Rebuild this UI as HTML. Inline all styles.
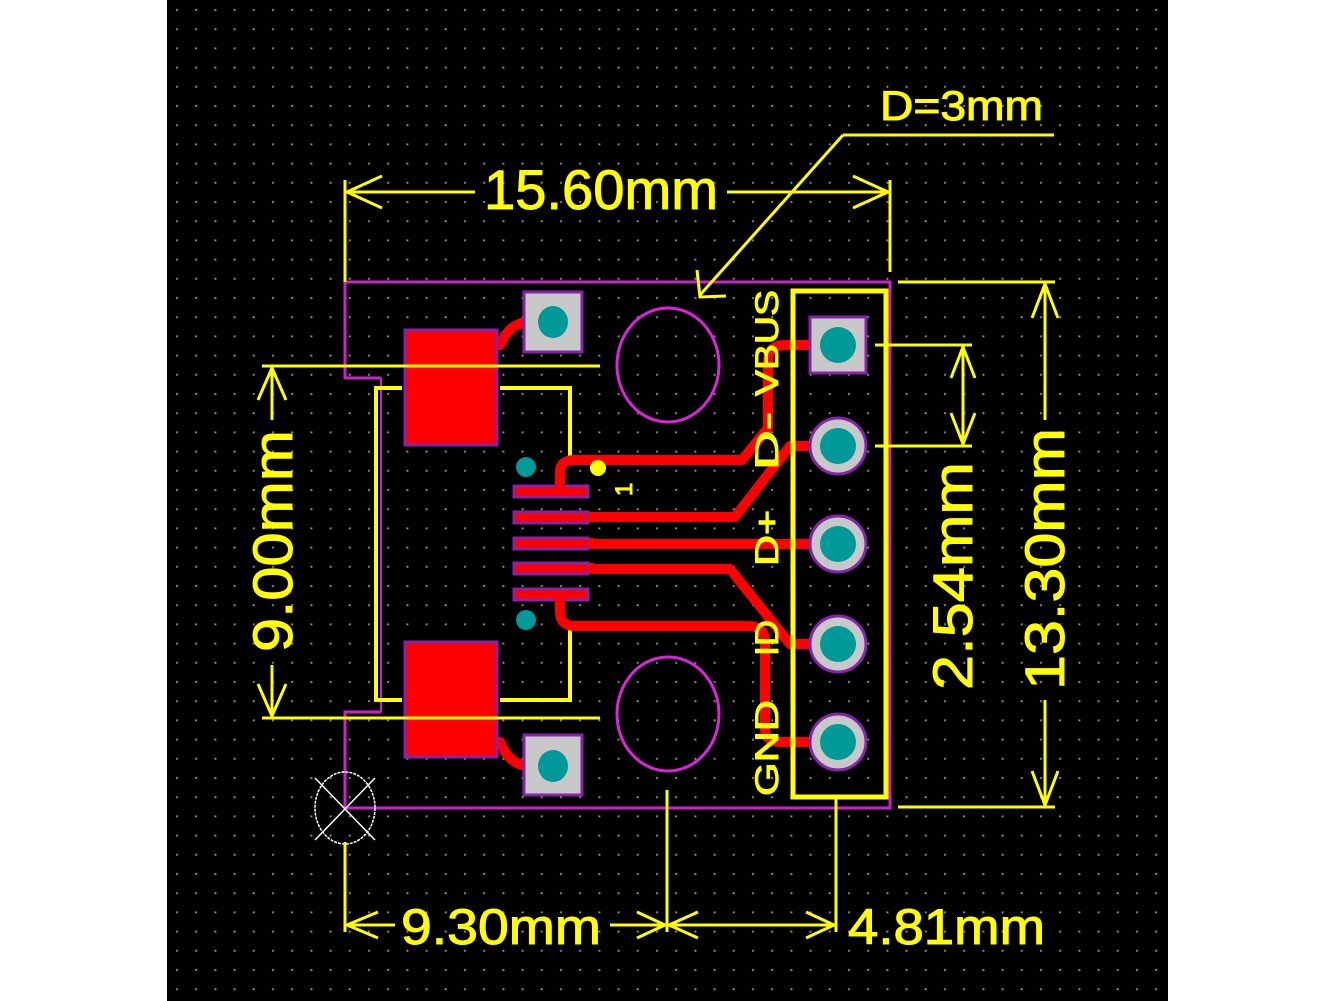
<!DOCTYPE html>
<html><head><meta charset="utf-8"><style>
html,body{margin:0;padding:0;background:#fff;}
svg{display:block;}
text{font-family:"Liberation Sans",sans-serif;fill:#ffff00;stroke:#ffff00;stroke-width:1;}
</style></head><body>
<svg width="1335" height="1001" viewBox="0 0 1335 1001" xmlns="http://www.w3.org/2000/svg">
<defs>
<pattern id="g" x="167" y="0" width="19.2" height="19.2" patternUnits="userSpaceOnUse">
<rect x="9" y="9" width="2" height="2" fill="#8a8a8a"/>
</pattern>
</defs>
<rect x="0" y="0" width="1335" height="1001" fill="#fff"/>
<rect x="167" y="0" width="1001" height="1001" fill="#000"/>
<rect x="167" y="0" width="1001" height="1001" fill="url(#g)"/>

<path d="M345,282 H890 V808 H345 V712 H381 M345,282 V378 H381" fill="none" stroke="#cc22cc" stroke-width="3"/>
<line x1="381" y1="378" x2="381" y2="712" stroke="#cc22cc" stroke-width="2"/>

<path d="M402,388 H376 V700 H402 M500,388 H570 V464 M500,700 H570 V625" fill="none" stroke="#ffff00" stroke-width="4"/>

<g fill="none" stroke="#ff0000" stroke-width="10" stroke-linejoin="round" stroke-linecap="round">
<path d="M470,345 L500,345 Q510,322 530,322 L553,322"/>
<path d="M470,742 L500,742 Q510,766 530,766 L553,766"/>
<path d="M838,345 L785,345 Q768,345 768,362 L768,428 L742,460 L575,460 Q560,460 560,472 L560,490"/>
<path d="M838,446 L790,446 L735,517 L580,517"/>
<path d="M838,544 L580,544"/>
<path d="M580,569 L730,569 L790,644 L838,644"/>
<path d="M560,595 L560,612 Q560,626 575,626 L748,626 Q765,626 765,642 L765,728 Q765,742 780,742 L838,742"/>
</g>

<rect x="405" y="330" width="92" height="115" fill="#ff0000" stroke="#8822aa" stroke-width="3"/>
<rect x="405" y="642" width="92" height="115" fill="#ff0000" stroke="#8822aa" stroke-width="3"/>

<rect x="524" y="292" width="58" height="60" fill="#c8c8c8" stroke="#8822aa" stroke-width="3"/>
<ellipse cx="553" cy="322" rx="15" ry="16" fill="#009999"/>
<rect x="524" y="735" width="58" height="60" fill="#c8c8c8" stroke="#8822aa" stroke-width="3"/>
<ellipse cx="553" cy="766" rx="15" ry="16" fill="#009999"/>

<g fill="#ff0000" stroke="#8822aa" stroke-width="3">
<rect x="514" y="486" width="74" height="11"/>
<rect x="514" y="512" width="74" height="11"/>
<rect x="514" y="538" width="74" height="11"/>
<rect x="514" y="563" width="74" height="11"/>
<rect x="514" y="589" width="74" height="11"/>
</g>
<rect x="588" y="512" width="6" height="10" fill="#ff0000"/>
<rect x="588" y="538" width="6" height="10" fill="#ff0000"/>
<rect x="588" y="563" width="6" height="10" fill="#ff0000"/>
<rect x="555" y="480" width="10" height="16" fill="#ff0000"/>
<rect x="555" y="592" width="10" height="16" fill="#ff0000"/>
<circle cx="526" cy="467" r="10" fill="#009999"/>
<circle cx="526" cy="620" r="10" fill="#009999"/>
<circle cx="598" cy="468" r="8" fill="#ffff00"/>
<text transform="translate(632,496) rotate(-90)" font-size="24">1</text>

<ellipse cx="668" cy="365" rx="51" ry="57" fill="none" stroke="#dd22dd" stroke-width="3"/>
<ellipse cx="668" cy="714" rx="51" ry="57" fill="none" stroke="#dd22dd" stroke-width="3"/>

<rect x="793" y="291" width="93" height="506" fill="none" stroke="#ffff00" stroke-width="5"/>
<rect x="810" y="317" width="56" height="56" fill="#c8c8c8" stroke="#8822aa" stroke-width="3"/>
<circle cx="838" cy="345" r="18" fill="#009999"/>
<g>
<circle cx="838" cy="446" r="28" fill="#c8c8c8" stroke="#8822aa" stroke-width="3"/><circle cx="838" cy="446" r="18" fill="#009999"/>
<circle cx="838" cy="544" r="28" fill="#c8c8c8" stroke="#8822aa" stroke-width="3"/><circle cx="838" cy="544" r="18" fill="#009999"/>
<circle cx="838" cy="644" r="28" fill="#c8c8c8" stroke="#8822aa" stroke-width="3"/><circle cx="838" cy="644" r="18" fill="#009999"/>
<circle cx="838" cy="742" r="28" fill="#c8c8c8" stroke="#8822aa" stroke-width="3"/><circle cx="838" cy="742" r="18" fill="#009999"/>
</g>

<g font-size="32">
<text transform="translate(778,396) rotate(-90)" textLength="106" lengthAdjust="spacingAndGlyphs">VBUS</text>
<text transform="translate(778,470) rotate(-90)" textLength="58" lengthAdjust="spacingAndGlyphs">D-</text>
<text transform="translate(778,566) rotate(-90)" textLength="56" lengthAdjust="spacingAndGlyphs">D+</text>
<text transform="translate(778,656) rotate(-90)" textLength="36" lengthAdjust="spacingAndGlyphs">ID</text>
<text transform="translate(778,796) rotate(-90)" textLength="96" lengthAdjust="spacingAndGlyphs">GND</text>
</g>

<ellipse cx="345" cy="808" rx="30" ry="36" fill="none" stroke="#fff" stroke-width="1.5" stroke-dasharray="3,1"/>
<path d="M315,778 L375,840 M375,778 L315,840" stroke="#fff" stroke-width="1.5"/>

<g stroke="#ffff00" stroke-width="3" fill="none">
<line x1="345" y1="180" x2="345" y2="282"/>
<line x1="890" y1="180" x2="890" y2="272"/>
<line x1="345" y1="192" x2="475" y2="192"/>
<line x1="727" y1="192" x2="890" y2="192"/>
<path d="M382,176 L347,192 L382,208 M853,176 L888,192 L853,208"/>
<line x1="843" y1="135" x2="1054" y2="135"/>
<line x1="843" y1="135" x2="700" y2="295"/>
<path d="M697,270 L700,297 L726,296"/>
<line x1="262" y1="366" x2="600" y2="366"/>
<line x1="262" y1="718" x2="600" y2="718"/>
<line x1="272" y1="368" x2="272" y2="420"/>
<line x1="272" y1="665" x2="272" y2="716"/>
<path d="M258,400 L272,368 L286,400 M258,684 L272,716 L286,684"/>
<line x1="875" y1="345" x2="972" y2="345"/>
<line x1="875" y1="446" x2="972" y2="446"/>
<line x1="963" y1="347" x2="963" y2="444"/>
<path d="M951,378 L963,347 L975,378 M951,413 L963,444 L975,413"/>
<line x1="898" y1="282" x2="1055" y2="282"/>
<line x1="898" y1="807" x2="1055" y2="807"/>
<line x1="1045" y1="284" x2="1045" y2="420"/>
<line x1="1045" y1="700" x2="1045" y2="805"/>
<path d="M1032,318 L1045,284 L1058,318 M1032,771 L1045,805 L1058,771"/>
<line x1="345" y1="842" x2="345" y2="932"/>
<line x1="667" y1="790" x2="667" y2="932"/>
<line x1="836" y1="798" x2="836" y2="932"/>
<line x1="345" y1="925" x2="395" y2="925"/>
<line x1="610" y1="925" x2="836" y2="925"/>
<path d="M378,912 L347,925 L378,938 M637,912 L665,925 L637,938 M698,912 L669,925 L698,938 M806,912 L834,925 L806,938"/>
</g>
<g font-size="56">
<text x="484" y="209" textLength="234" lengthAdjust="spacingAndGlyphs">15.60mm</text>
<text x="880" y="120" font-size="42" textLength="163" lengthAdjust="spacingAndGlyphs">D=3mm</text>
<text transform="translate(292,652) rotate(-90)" textLength="222" lengthAdjust="spacingAndGlyphs">9.00mm</text>
<text transform="translate(972,690) rotate(-90)" textLength="228" lengthAdjust="spacingAndGlyphs">2.54mm</text>
<text transform="translate(1064,690) rotate(-90)" textLength="262" lengthAdjust="spacingAndGlyphs">13.30mm</text>
<text x="401" y="944" font-size="50" textLength="200" lengthAdjust="spacingAndGlyphs">9.30mm</text>
<text x="848" y="944" font-size="50" textLength="197" lengthAdjust="spacingAndGlyphs">4.81mm</text>
</g>
</svg>
</body></html>
